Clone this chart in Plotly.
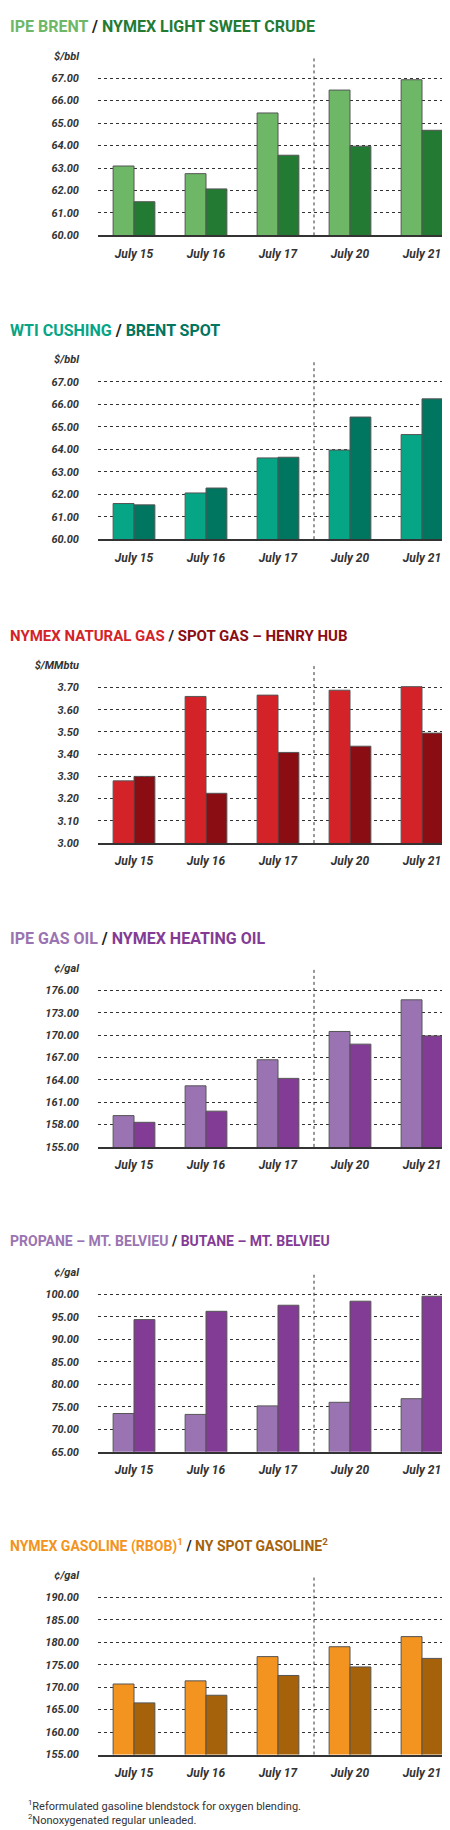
import plotly.graph_objects as go

dates = ["July 15", "July 16", "July 17", "July 20", "July 21"]

brent_ipe = [63.09, 62.75, 65.45, 66.47, 66.93]
nymex_crude = [61.50, 62.07, 63.57, 63.97, 64.68]
wti_cushing = [61.59, 62.06, 63.62, 63.97, 64.66]
brent_spot = [61.53, 62.28, 63.65, 65.44, 66.25]
nymex_gas = [3.28, 3.66, 3.666, 3.688, 3.704]
spot_gas = [3.30, 3.224, 3.408, 3.436, 3.495]
ipe_gasoil = [159.2, 163.2, 166.7, 170.5, 174.75]
nymex_heating = [158.3, 159.8, 164.2, 168.8, 169.9]
propane = [73.5, 73.3, 75.2, 76.0, 76.8]
butane = [94.4, 96.25, 97.6, 98.5, 99.6]
nymex_rbob = [170.7, 171.4, 176.8, 179.0, 181.25]
ny_spot_gasoline = [166.5, 168.2, 172.6, 174.5, 176.4]

ticks_crude = [60, 61, 62, 63, 64, 65, 66, 67, 68]
ticks_gas = [3.0, 3.1, 3.2, 3.3, 3.4, 3.5, 3.6, 3.7, 3.8]
ticks_gasoil = [155, 158, 161, 164, 167, 170, 173, 176, 179]
ticks_propane = [65, 70, 75, 80, 85, 90, 95, 100, 105]
ticks_gasoline = [155, 160, 165, 170, 175, 180, 185, 190, 195]

panels = [
    ("IPE BRENT", "NYMEX LIGHT SWEET CRUDE", brent_ipe, nymex_crude, "#6db766", "#237a33", ticks_crude, "$/bbl", 16, 42, 223),
    ("WTI CUSHING", "BRENT SPOT", wti_cushing, brent_spot, "#05a586", "#007560", ticks_crude, "$/bbl", 16, 348, 529),
    ("NYMEX NATURAL GAS", "SPOT GAS – HENRY HUB", nymex_gas, spot_gas, "#d42229", "#8b0d14", ticks_gas, "$/MMbtu", 15, 656, 835),
    ("IPE GAS OIL", "NYMEX HEATING OIL", ipe_gasoil, nymex_heating, "#9a74b2", "#833c95", ticks_gasoil, "¢/gal", 16, 961, 1141),
    ("PROPANE – MT. BELVIEU", "BUTANE – MT. BELVIEU", propane, butane, "#9a74b2", "#833c95", ticks_propane, "¢/gal", 14, 1267, 1448),
    ("NYMEX GASOLINE (RBOB)<sup>1</sup>", "NY SPOT GASOLINE<sup>2</sup>", nymex_rbob, ny_spot_gasoline, "#f39320", "#a5620a", ticks_gasoline, "¢/gal", 14, 1572, 1753),
]

H, W = 1830, 450
fig = go.Figure()
tickfont = dict(family="Roboto, sans-serif", size=11, color="#333", style="italic", weight="bold")
xpos = list(range(len(dates)))

for i, (t1, t2, a, b, c1, c2, ticks, unit, tsize, ytop, ybot) in enumerate(panels):
    n = "" if i == 0 else str(i + 1)
    xa, ya = "x" + n, "y" + n
    for vals, col in ((a, c1), (b, c2)):
        fig.add_trace(go.Bar(x=xpos, y=vals, marker=dict(color=col, line=dict(color="#555", width=1)),
                             xaxis=xa, yaxis=ya, showlegend=False))
    dom = [1 - ybot / H, 1 - ytop / H]
    ttext = ["{:.2f}".format(v) for v in ticks[:-1]] + [unit]
    fig.layout["xaxis" + n] = dict(domain=[0.2, 1], anchor=ya, tickvals=xpos, ticktext=dates,
                                   range=[-0.5, 4.5], tickfont=dict(tickfont, size=12),
                                   showline=True, linecolor="#333", linewidth=2,
                                   showgrid=False, ticks="", ticklabelstandoff=6)
    fig.layout["yaxis" + n] = dict(domain=dom, anchor=xa, range=[ticks[0], ticks[-1]],
                                   tickvals=ticks, ticktext=ttext, tickfont=tickfont,
                                   showgrid=True, gridcolor="#333", griddash="dot", gridwidth=1,
                                   zeroline=False, showline=False, ticklabelstandoff=18)
    fig.add_shape(type="line", xref=xa, yref=ya + " domain", x0=2.5, x1=2.5, y0=0, y1=1,
                  line=dict(color="#333", width=1, dash="dot"))
    fig.add_annotation(xref="paper", yref="paper", x=0, y=1 - (ytop - 41) / H, xanchor="left",
                       yanchor="top", showarrow=False,
                       text=f"<span style='color:{c1}'>{t1}</span> <span style='color:#222'>/</span> <span style='color:{c2}'>{t2}</span>",
                       font=dict(family="Roboto, sans-serif", size=tsize, weight="bold"))

fig.add_annotation(xref="paper", yref="paper", x=0.04, y=1 - 1795 / H, xanchor="left", yanchor="top",
                   showarrow=False, align="left",
                   text="<sup>1</sup>Reformulated gasoline blendstock for oxygen blending.<br><sup>2</sup>Nonoxygenated regular unleaded.",
                   font=dict(family="Roboto, sans-serif", size=11, color="#333"))

fig.update_layout(width=W, height=H, margin=dict(l=0, r=0, t=0, b=0), barmode="group",
                  bargap=0.42, bargroupgap=0, plot_bgcolor="white", paper_bgcolor="white")
fig.write_html("out.html")
